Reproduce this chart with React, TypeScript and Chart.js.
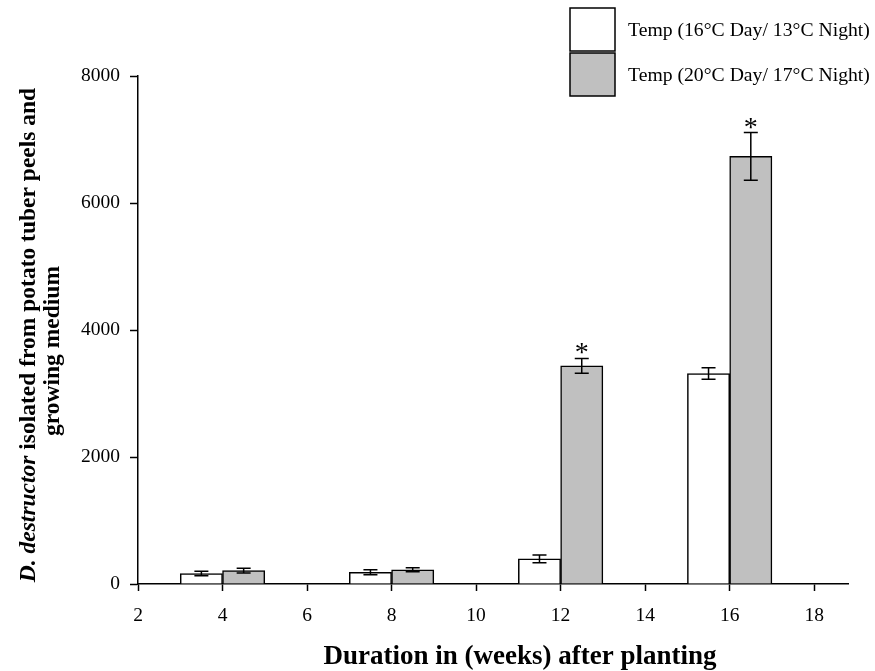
import React, { useEffect, useRef } from "react";
import { Chart, registerables } from "chart.js";

Chart.register(...registerables);

// Sampling times (weeks after planting)
const weeks = [4, 8, 12, 16];

// Cool regime: 16°C day / 13°C night
const coolMeans = [165, 185, 395, 3315];
const coolErrors = [35, 38, 62, 90];

// Warm regime: 20°C day / 17°C night
const warmMeans = [210, 225, 3435, 6735];
const warmErrors = [38, 32, 118, 375];
const warmSignificant = [false, false, true, true];

const seriesLabels = ["Temp (16°C Day/ 13°C Night)", "Temp (20°C Day/ 17°C Night)"];
const seriesFills = ["#ffffff", "#c0c0c0"];

const xTickStep = 2;
const yTickStep = 2000;

const xTitle = "Duration in (weeks) after planting";
const yTitleLine1Pre = "D.";
const yTitleItalic = "destructor";
const yTitleLine1Post = " isolated from potato tuber peels and";
const yTitleLine2 = "growing medium";

const SERIF = "'Liberation Serif', 'Times New Roman', serif";
const TICK_SIZE = 19.5;
const LEGEND_SIZE = 19.7;
const TITLE_SIZE = 23.5;
const X_TITLE_SIZE = 27;

const seriesErrors = [coolErrors, warmErrors];
const seriesStars = [coolMeans.map(() => false), warmSignificant];

const decorations = {
  id: "decorations",
  afterDatasetsDraw(chart: any) {
    const { ctx } = chart;
    const y = chart.scales.y;
    chart.data.datasets.forEach((ds: any, di: number) => {
      const meta = chart.getDatasetMeta(di);
      meta.data.forEach((bar: any, i: number) => {
        const v = ds.data[i].y;
        const e = seriesErrors[di][i];
        const xc = bar.x;
        const top = y.getPixelForValue(v + e);
        const bot = y.getPixelForValue(v - e);
        ctx.save();
        ctx.strokeStyle = "#000";
        ctx.lineWidth = 1.5;
        ctx.beginPath();
        ctx.moveTo(xc, top);
        ctx.lineTo(xc, bot);
        ctx.moveTo(xc - 7, top);
        ctx.lineTo(xc + 7, top);
        ctx.moveTo(xc - 7, bot);
        ctx.lineTo(xc + 7, bot);
        ctx.stroke();
        if (seriesStars[di][i]) {
          ctx.fillStyle = "#000";
          ctx.font = `28px ${SERIF}`;
          ctx.textAlign = "center";
          ctx.textBaseline = "alphabetic";
          ctx.fillText("*", xc, top + 3);
        }
        ctx.restore();
      });
    });
  },
  afterDraw(chart: any) {
    const { ctx } = chart;
    ctx.save();
    ctx.fillStyle = "#000";

    // Legend
    const boxX = 570;
    const boxW = 45;
    const boxH = 43;
    const boxTops = [8, 53];
    chart.data.datasets.forEach((ds: any, di: number) => {
      const top = boxTops[di];
      ctx.fillStyle = ds.backgroundColor;
      ctx.fillRect(boxX, top, boxW, boxH);
      ctx.strokeStyle = "#000";
      ctx.lineWidth = 1.5;
      ctx.strokeRect(boxX, top, boxW, boxH);
      ctx.fillStyle = "#000";
      ctx.font = `${LEGEND_SIZE}px ${SERIF}`;
      ctx.textAlign = "left";
      ctx.textBaseline = "middle";
      ctx.fillText(ds.label, 628, top + boxH / 2 + 1);
    });

    // X axis title
    ctx.font = `bold ${X_TITLE_SIZE}px ${SERIF}`;
    ctx.textAlign = "center";
    ctx.textBaseline = "alphabetic";
    ctx.fillText(xTitle, 520, 664);

    // Y axis title (two rotated lines, species name in italics)
    const boldFont = `bold ${TITLE_SIZE}px ${SERIF}`;
    const italicFont = `italic bold ${TITLE_SIZE}px ${SERIF}`;
    ctx.font = italicFont;
    const wPre = ctx.measureText(yTitleLine1Pre).width;
    const wIt = ctx.measureText(yTitleItalic).width;
    ctx.font = boldFont;
    const wSpace = ctx.measureText(" ").width;
    const wPost = ctx.measureText(yTitleLine1Post).width;
    const total = wPre + wSpace + wIt + wPost;

    ctx.save();
    ctx.translate(29, 335);
    ctx.rotate(-Math.PI / 2);
    ctx.textAlign = "left";
    ctx.textBaseline = "middle";
    let cx = -total / 2;
    ctx.font = italicFont;
    ctx.fillText(yTitleLine1Pre, cx, 0);
    cx += wPre + wSpace;
    ctx.fillText(yTitleItalic, cx, 0);
    cx += wIt;
    ctx.font = boldFont;
    ctx.fillText(yTitleLine1Post, cx, 0);
    ctx.restore();

    ctx.save();
    ctx.translate(53, 351);
    ctx.rotate(-Math.PI / 2);
    ctx.font = boldFont;
    ctx.textAlign = "center";
    ctx.textBaseline = "middle";
    ctx.fillText(yTitleLine2, 0, 0);
    ctx.restore();

    ctx.restore();
  },
};

export default function App() {
  const canvasRef = useRef<HTMLCanvasElement | null>(null);

  useEffect(() => {
    const canvas = canvasRef.current;
    if (!canvas) return;
    const axisFont = { family: SERIF, size: TICK_SIZE };
    const chart = new Chart(canvas, {
      type: "bar",
      data: {
        datasets: [
          {
            label: seriesLabels[0],
            data: weeks.map((w, i) => ({ x: w, y: coolMeans[i] })),
            backgroundColor: seriesFills[0],
            borderColor: "#000",
            borderWidth: 1.5,
          },
          {
            label: seriesLabels[1],
            data: weeks.map((w, i) => ({ x: w, y: warmMeans[i] })),
            backgroundColor: seriesFills[1],
            borderColor: "#000",
            borderWidth: 1.5,
          },
        ],
      },
      options: {
        responsive: false,
        animation: false,
        events: [],
        categoryPercentage: 1,
        barPercentage: 1,
        layout: { padding: { top: 76, right: 27, left: 0, bottom: 0 } },
        plugins: {
          legend: { display: false },
          tooltip: { enabled: false },
          title: { display: false },
        },
        scales: {
          x: {
            type: "linear",
            min: 2,
            max: 18.8,
            offset: false,
            grid: {
              display: true,
              drawOnChartArea: false,
              drawTicks: true,
              tickLength: 7,
              tickColor: "#000",
              tickWidth: 1.5,
              offset: false,
            },
            border: { display: true, color: "#000", width: 1.5 },
            ticks: {
              stepSize: xTickStep,
              includeBounds: false,
              color: "#000",
              font: axisFont,
              padding: 13,
              maxRotation: 0,
              callback: (v: any) => String(v),
            },
            afterFit: (s: any) => {
              s.height = 87;
            },
          },
          y: {
            type: "linear",
            min: 0,
            max: 8000,
            grid: {
              display: true,
              drawOnChartArea: false,
              drawTicks: true,
              tickLength: 8,
              tickColor: "#000",
              tickWidth: 1.5,
            },
            border: { display: true, color: "#000", width: 1.5 },
            ticks: {
              stepSize: yTickStep,
              color: "#000",
              font: axisFont,
              padding: 10,
              callback: (v: any) => String(v),
            },
            afterFit: (s: any) => {
              s.width = 138;
            },
          },
        },
      } as any,
      plugins: [decorations],
    });
    return () => chart.destroy();
  }, []);

  return (
    <div style={{ position: "absolute", left: 0, top: 0, width: 875, height: 671, background: "#fff" }}>
      <canvas ref={canvasRef} width={875} height={671} />
    </div>
  );
}
